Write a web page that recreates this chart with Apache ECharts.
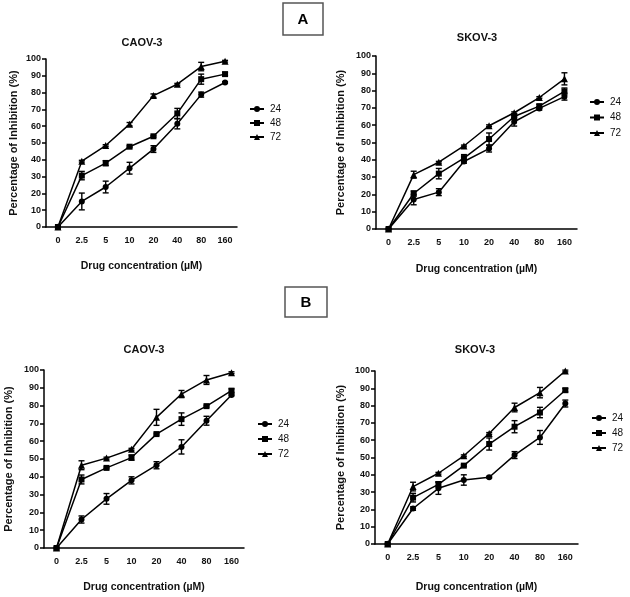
<!DOCTYPE html>
<html><head><meta charset="utf-8">
<script src="https://cdn.jsdelivr.net/npm/echarts@6/dist/echarts.min.js"></script>
<style>html,body{margin:0;padding:0;background:#fff}#c{width:630px;height:597px}</style>
</head><body><div id="c"></div>
<script>
const categories = ['0', '2.5', '5', '10', '20', '40', '80', '160'];
const seriesNames = ['24', '48', '72'];
const panelTitles = ['CAOV-3', 'SKOV-3', 'CAOV-3', 'SKOV-3'];
const panelLabels = ['A', 'B'];
const xAxisTitle = 'Drug concentration (\u00b5M)';
const yAxisTitle = 'Percentage of Inhibition (%)';

// Panel A - CAOV-3
const aCaov24 = [0, 15.2, 23.8, 35, 46.4, 61.4, 78.8, 86];
const aCaov24Err = [0.5, 5, 3.5, 3.5, 2, 3, 1.5, 0.5];
const aCaov48 = [0, 30.6, 38, 47.8, 54, 67.6, 88, 91];
const aCaov48Err = [0, 2.5, 1.5, 0.5, 0.5, 3, 3, 1];
const aCaov72 = [0, 39.2, 48.5, 61.2, 78.2, 85, 95.5, 98.7];
const aCaov72Err = [0, 0.5, 0.5, 1, 1, 0.5, 2.5, 0.5];

// Panel A - SKOV-3
const aSkov24 = [0, 17, 21.3, 39, 46.5, 62, 69.7, 76.5];
const aSkov24Err = [0.5, 3, 2, 1, 2, 2.5, 1, 2];
const aSkov48 = [0, 20.5, 32, 41, 52, 65, 71, 79.5];
const aSkov48Err = [0, 1.5, 3, 2, 3.5, 1.5, 1, 2];
const aSkov72 = [0, 31.4, 38.6, 48, 59.7, 67.2, 76, 86.8];
const aSkov72Err = [0, 2, 0.5, 0.5, 0.5, 0.5, 0.5, 3.5];

// Panel B - CAOV-3
const bCaov24 = [0, 16, 27.6, 38, 46.5, 56.8, 71.5, 86];
const bCaov24Err = [0.5, 2, 3, 2, 2, 4, 2.5, 0.5];
const bCaov48 = [0, 38.5, 45, 50.8, 64, 72.4, 79.7, 88.4];
const bCaov48Err = [0, 2.5, 0.5, 1.5, 0.5, 3.5, 0.5, 1];
const bCaov72 = [0, 46.5, 50.5, 55.5, 73.4, 86.5, 94.4, 98.5];
const bCaov72Err = [0, 2.5, 0.5, 0.5, 4.5, 2, 2.5, 0.5];

// Panel B - SKOV-3
const bSkov24 = [0, 20.5, 32.2, 37, 38.6, 51.4, 61.6, 81.2];
const bSkov24Err = [0.5, 1, 3.5, 3, 0.5, 2, 4, 2];
const bSkov48 = [0, 26.8, 34.5, 45.3, 57.8, 67.8, 76, 88.9];
const bSkov48Err = [0, 2.5, 1.5, 0.5, 3.5, 3.5, 3, 1];
const bSkov72 = [0, 33.2, 40.9, 51, 63.9, 78.9, 87.5, 100];
const bSkov72Err = [0, 2.5, 0.5, 0.5, 0.5, 2.5, 3, 0.5];

const panelData = [
  [[aCaov24, aCaov24Err], [aCaov48, aCaov48Err], [aCaov72, aCaov72Err]],
  [[aSkov24, aSkov24Err], [aSkov48, aSkov48Err], [aSkov72, aSkov72Err]],
  [[bCaov24, bCaov24Err], [bCaov48, bCaov48Err], [bCaov72, bCaov72Err]],
  [[bSkov24, bSkov24Err], [bSkov48, bSkov48Err], [bSkov72, bSkov72Err]]
];

const FONT = "'Liberation Sans', Arial, sans-serif";
const INK = '#111';
const symbols = ['circle', 'rect', 'triangle'];
const symbolSizes = [6, 6, 7];

const grids = [
  { left: 46, top: 59, width: 191, height: 168 },
  { left: 376, top: 56, width: 201, height: 173 },
  { left: 44, top: 370, width: 200, height: 178 },
  { left: 375, top: 371, width: 203, height: 173 }
];
const yNameGaps = [27, 30, 30, 29];
const xNameGaps = [34, 35, 34, 38];
const titlePos = [[142, 43], [477, 38], [144, 350], [475, 350]];
const legendPos = [
  { left: 249, top: 104, itemGap: 4 },
  { left: 589, top: 97, itemGap: 5.5 },
  { left: 257, top: 419, itemGap: 5 },
  { left: 591, top: 413, itemGap: 5 }
];

function renderErr(params, api) {
  const x = api.value(0), lo = api.value(1), hi = api.value(2);
  if (hi - lo < 0.05) return null;
  const p1 = api.coord([x, hi]), p2 = api.coord([x, lo]);
  const w = 3;
  const st = { stroke: '#000', lineWidth: 1.4 };
  return {
    type: 'group',
    children: [
      { type: 'line', shape: { x1: p1[0], y1: p1[1], x2: p2[0], y2: p2[1] }, style: st },
      { type: 'line', shape: { x1: p1[0] - w, y1: p1[1], x2: p1[0] + w, y2: p1[1] }, style: st },
      { type: 'line', shape: { x1: p2[0] - w, y1: p2[1], x2: p2[0] + w, y2: p2[1] }, style: st }
    ]
  };
}

const xAxes = [], yAxes = [], series = [], legends = [], graphics = [];
grids.forEach((g, i) => {
  xAxes.push({
    type: 'category', gridIndex: i, data: categories, boundaryGap: true,
    name: xAxisTitle, nameLocation: 'middle', nameGap: xNameGaps[i],
    nameTextStyle: { fontFamily: FONT, fontWeight: 'bold', fontSize: 10.5, color: INK },
    axisLine: { lineStyle: { color: '#000', width: 1.5 } },
    axisTick: { alignWithLabel: true, length: 4, lineStyle: { color: '#000', width: 1.5 } },
    axisLabel: { fontFamily: FONT, fontWeight: 'bold', fontSize: 9, color: INK, margin: 9, interval: 0 },
    splitLine: { show: false }
  });
  yAxes.push({
    type: 'value', gridIndex: i, min: 0, max: 100, interval: 10,
    name: yAxisTitle, nameLocation: 'middle', nameGap: yNameGaps[i], nameRotate: 90,
    nameTextStyle: { fontFamily: FONT, fontWeight: 'bold', fontSize: 11, color: INK },
    axisLine: { show: true, lineStyle: { color: '#000', width: 1.5 } },
    axisTick: { show: true, length: 4, lineStyle: { color: '#000', width: 1.5 } },
    axisLabel: { fontFamily: FONT, fontWeight: 'bold', fontSize: 9, color: INK, margin: 5 },
    splitLine: { show: false }
  });
  panelData[i].forEach((pair, k) => {
    const vals = pair[0], errs = pair[1];
    series.push({
      type: 'line', name: seriesNames[k], xAxisIndex: i, yAxisIndex: i,
      data: vals, symbol: symbols[k], symbolSize: symbolSizes[k], showSymbol: true,
      itemStyle: { color: '#000' }, lineStyle: { color: '#000', width: 1.5 },
      z: 3, animation: false
    });
    series.push({
      type: 'custom', name: 'err' + i + k, xAxisIndex: i, yAxisIndex: i,
      renderItem: renderErr, encode: { x: 0, y: [1, 2] },
      data: vals.map((v, j) => [j, v - errs[j], v + errs[j]]),
      z: 4, silent: true, animation: false
    });
  });
  legends.push({
    orient: 'vertical', left: legendPos[i].left, top: legendPos[i].top,
    itemGap: legendPos[i].itemGap, itemWidth: 14, itemHeight: 7.5, padding: 0,
    data: seriesNames, selectedMode: false,
    itemStyle: { color: '#000' }, lineStyle: { color: '#000', width: 2 },
    textStyle: { fontFamily: FONT, fontSize: 10, color: INK, padding: [0, 0, 0, 1] }
  });
  graphics.push({
    type: 'text', x: titlePos[i][0], y: titlePos[i][1],
    style: { text: panelTitles[i], fontFamily: FONT, fontWeight: 'bold', fontSize: 11, fill: INK, textAlign: 'center', textVerticalAlign: 'middle' }
  });
});

const boxes = [{ x: 283, y: 3, w: 40, h: 32 }, { x: 285, y: 287, w: 42, h: 30 }];
boxes.forEach((b, i) => {
  graphics.push({ type: 'rect', shape: { x: b.x, y: b.y, width: b.w, height: b.h }, style: { fill: '#fff', stroke: '#555', lineWidth: 1.5 } });
  graphics.push({
    type: 'text', x: b.x + b.w / 2, y: b.y + b.h / 2 + 1,
    style: { text: panelLabels[i], fontFamily: FONT, fontWeight: 'bold', fontSize: 15, fill: '#000', textAlign: 'center', textVerticalAlign: 'middle' }
  });
});

const chart = echarts.init(document.getElementById('c'), null, { renderer: 'canvas' });
chart.setOption({
  backgroundColor: '#fff',
  animation: false,
  grid: grids,
  xAxis: xAxes,
  yAxis: yAxes,
  legend: legends,
  series: series,
  graphic: graphics
});
</script>
</body></html>
